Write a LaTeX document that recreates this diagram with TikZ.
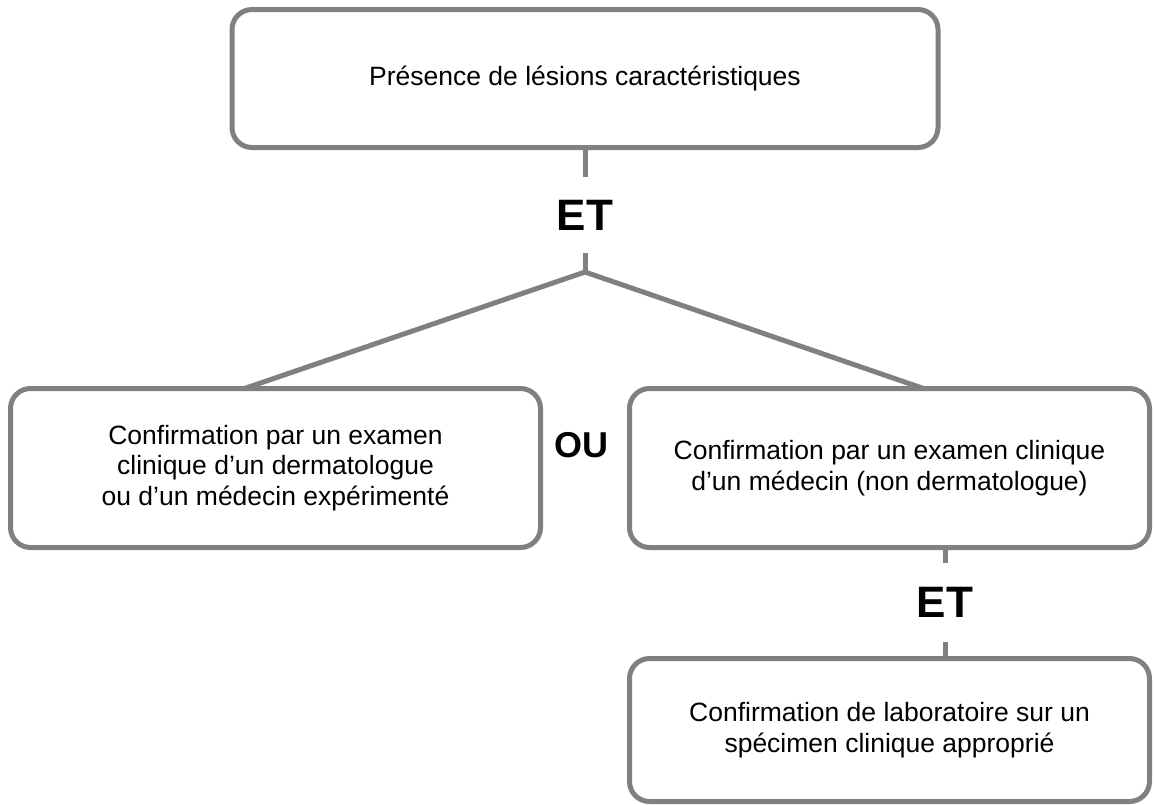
\documentclass[tikz,border=0pt]{standalone}
\usepackage{fontspec}
\setmainfont{Liberation Sans}
\usepackage{tikz}
\usepackage{xcolor}
\usetikzlibrary{positioning, calc}

\definecolor{trait}{RGB}{128,128,128}

\begin{document}
\begin{tikzpicture}[x=1pt, y=-1pt,
    critere/.style={rectangle, draw=trait, line width=5pt, rounded corners=20pt, align=center, font=\fontsize{26.5}{30.5}\selectfont},
    lien/.style={draw=trait, line width=5pt},
    oper/.style={inner sep=0pt, font=\fontsize{44}{44}\selectfont\bfseries},
]
\useasboundingbox (0,0) rectangle (1154,804);

% Criteria boxes
\node[critere, minimum width=706pt, minimum height=138pt] (lesions) at (585,78.5) {Présence de lésions caractéristiques};
\node[critere, minimum width=530pt, minimum height=159pt] (dermato) at (275.5,468) {Confirmation par un examen\\clinique d’un dermatologue\\ou d’un médecin expérimenté};
\node[critere, minimum width=520pt, minimum height=159pt] (medecin) at (889.5,468) {Confirmation par un examen clinique\\d’un médecin (non dermatologue)};
\node[critere, minimum width=520pt, minimum height=143pt] (labo) at (889.5,730) {Confirmation de laboratoire sur un\\spécimen clinique approprié};

% Logic operators
\node[oper, minimum height=75pt] (et1) at (585,215) {ET};
\node[oper, font=\fontsize{36}{36}\selectfont\bfseries] (ou) at (581,445) {OU};
\node[oper, minimum height=79pt] (et2) at (945,602.5) {ET};

% Branching point and ends on the box tops
\coordinate (jonction) at (585,272);
\coordinate (bout gauche) at (243,389);
\coordinate (bout droit) at (925,389);

% Connectors
\draw[lien] (lesions.south) -- (et1.north);
\draw[lien] (et1.south) -- (jonction);
\draw[lien] (bout gauche) -- (jonction) -- (bout droit);
\draw[lien] (medecin.south -| et2) -- (et2.north);
\draw[lien] (et2.south) -- (labo.north -| et2);

\end{tikzpicture}
\end{document}
